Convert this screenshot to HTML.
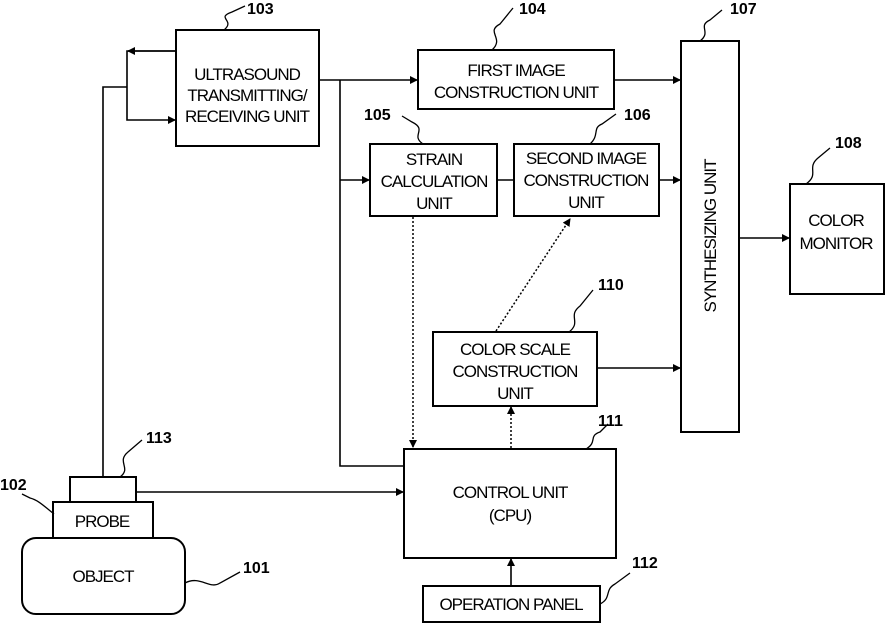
<!DOCTYPE html>
<html><head><style>body{margin:0;background:#fff}svg{display:block}</style></head><body>
<svg width="887" height="623" viewBox="0 0 887 623" xmlns="http://www.w3.org/2000/svg" font-family="Liberation Sans, sans-serif">
<defs><marker id="a" markerWidth="8" markerHeight="8" refX="7" refY="4" orient="auto" markerUnits="userSpaceOnUse"><path d="M0,0 L8,4 L0,8 z" fill="#000"/></marker></defs>
<g fill="none" stroke="#000" stroke-width="2">
<rect x="176" y="30" width="143" height="116"/>
<rect x="418" y="50" width="196" height="59"/>
<rect x="370" y="144" width="127" height="72"/>
<rect x="514" y="144" width="145" height="72"/>
<rect x="681" y="41" width="58" height="391"/>
<rect x="790" y="184" width="94" height="110"/>
<rect x="433" y="332" width="164" height="74"/>
<rect x="404" y="449" width="212" height="109"/>
<rect x="423" y="586" width="177" height="36"/>
<rect x="70" y="477" width="66" height="25"/>
<rect x="53" y="502" width="100" height="36"/>
<rect x="22" y="538" width="163" height="76" rx="14"/>
<g stroke-width="1.6">
<path d="M176,51 H127 V120 H175" marker-end="url(#a)"/>
<path d="M176,51 H128" marker-end="url(#a)"/>
<path d="M103,477 V87 H127"/>
<path d="M319,80 H417" marker-end="url(#a)"/>
<path d="M340,80 V466 H404"/>
<path d="M340,180 H369" marker-end="url(#a)"/>
<path d="M497,180 H514"/>
<path d="M659,180 H680" marker-end="url(#a)"/>
<path d="M614,80 H680" marker-end="url(#a)"/>
<path d="M597,368 H680" marker-end="url(#a)"/>
<path d="M739,238 H789" marker-end="url(#a)"/>
<path d="M136,492 H403" marker-end="url(#a)"/>
<path d="M511,586 V559" marker-end="url(#a)"/>
</g>
<g stroke-width="1.5" stroke-dasharray="2,2">
<path d="M413,217 V447" marker-end="url(#a)"/>
<path d="M511,448 V407" marker-end="url(#a)"/>
<path d="M496,331 L570,219" marker-end="url(#a)"/>
</g>
<g stroke-width="1.3">
<path d="M224,30 C236,20 215,18 232,12 L245,6"/>
<path d="M492,50 C505,38 485,32 500,24 L513,8"/>
<path d="M700,41 C712,32 697,26 710,20 L722,10"/>
<path d="M423,144 C410,135 428,130 412,122 L402,116"/>
<path d="M590,144 C600,135 592,128 602,124 L616,114"/>
<path d="M806,184 C820,174 806,168 818,158 L830,148"/>
<path d="M569,332 C582,322 567,316 580,306 L593,290"/>
<path d="M586,449 C598,442 588,436 600,432 L608,424"/>
<path d="M120,477 C132,468 116,462 128,452 L142,440"/>
<path d="M54,514 C44,506 38,500 30,498 L22,494"/>
<path d="M185,583 C200,575 210,590 220,583 L240,572"/>
<path d="M600,604 C612,598 604,590 615,584 L630,573"/>
</g>
</g>
<g font-size="17" text-anchor="middle" fill="#000" style="letter-spacing:-1px">
<text x="247" y="80">ULTRASOUND</text><text x="247" y="101">TRANSMITTING/</text><text x="247" y="122">RECEIVING UNIT</text>
<text x="516" y="76">FIRST IMAGE</text><text x="516" y="98">CONSTRUCTION UNIT</text>
<text x="434" y="165">STRAIN</text><text x="434" y="187">CALCULATION</text><text x="434" y="209">UNIT</text>
<text x="586" y="164">SECOND IMAGE</text><text x="586" y="186">CONSTRUCTION</text><text x="586" y="208">UNIT</text>
<text x="836" y="226">COLOR</text><text x="836" y="249">MONITOR</text>
<text x="515" y="355">COLOR SCALE</text><text x="515" y="377">CONSTRUCTION</text><text x="515" y="399">UNIT</text>
<text x="510" y="498">CONTROL UNIT</text><text x="510" y="521">(CPU)</text>
<text x="511" y="610">OPERATION PANEL</text>
<text x="102" y="527">PROBE</text>
<text x="103" y="582">OBJECT</text>
<text transform="translate(716,236) rotate(-90)">SYNTHESIZING UNIT</text>
</g>
<g font-size="16" font-weight="bold" fill="#000">
<text x="247" y="14">103</text><text x="519" y="14">104</text><text x="730" y="14">107</text>
<text x="364" y="120">105</text><text x="624" y="120">106</text><text x="835" y="148">108</text>
<text x="598" y="290">110</text><text x="598" y="426">111</text><text x="146" y="443">113</text>
<text x="0" y="490">102</text><text x="243" y="573">101</text><text x="632" y="568">112</text>
</g>
</svg>
</body></html>
